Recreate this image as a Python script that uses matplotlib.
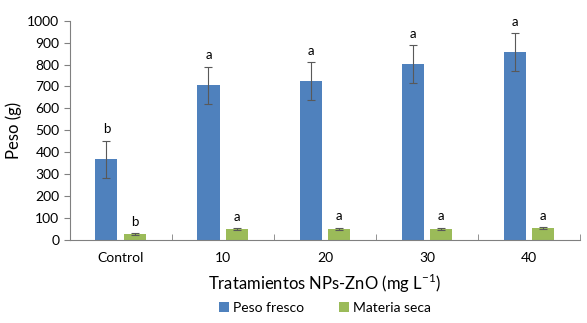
import numpy as np
import matplotlib.pyplot as plt

categories = ['Control', '10', '20', '30', '40']
fresco = [367, 705, 724, 803, 856]
fresco_err = [85, 86, 86, 86, 86]
seca = [26, 49, 50, 51, 53]
seca_err = [5, 5, 5, 5, 5]
letras_fresco = ['b', 'a', 'a', 'a', 'a']
letras_seca = ['b', 'a', 'a', 'a', 'a']

plt.rcParams['font.family'] = ['Lato', 'DejaVu Sans']

fig = plt.figure(figsize=(5.87, 3.23), dpi=100)
ax = fig.add_axes([0.119, 0.257, 0.869, 0.679])

x = np.arange(len(categories))
w = 0.216
off = 0.141
ekw = dict(ecolor='#595959', elinewidth=0.8, capsize=3, capthick=0.8)
ax.bar(x - off, fresco, w, yerr=fresco_err, color='#4F81BD', label='Peso fresco', error_kw=ekw)
ax.bar(x + off, seca, w, yerr=seca_err, color='#9BBB59', label='Materia seca', error_kw=ekw)

for i in range(len(categories)):
    ax.text(x[i] - off, fresco[i] + fresco_err[i] + 25, letras_fresco[i], ha='center', va='bottom', fontsize=9.5)
    ax.text(x[i] + off, seca[i] + seca_err[i] + 25, letras_seca[i], ha='center', va='bottom', fontsize=9.5)

ax.set_xlim(-0.5, len(categories) - 0.5)
ax.set_ylim(0, 1000)
ax.set_yticks(np.arange(0, 1001, 100))
ax.set_xticks(x)
ax.set_xticklabels(categories, fontsize=10)
ax.set_xticks(np.arange(0.5, len(categories), 1), minor=True)
ax.tick_params(axis='x', which='major', length=0, pad=9)
ax.tick_params(axis='x', which='minor', length=4, color='#808080', direction='in')
ax.tick_params(axis='y', length=4, color='#808080', labelsize=10)
for s in ['top', 'right']:
    ax.spines[s].set_visible(False)
for s in ['left', 'bottom']:
    ax.spines[s].set_color('#808080')

ax.set_ylabel('Peso (g)', fontsize=12)
ax.set_xlabel(r'Tratamientos NPs-ZnO (mg L$^{\mathregular{-1}}$)', fontsize=12, labelpad=5)
ax.legend(loc='center', bbox_to_anchor=(0.5, -0.31), ncol=2, frameon=False,
          prop={'family': ['Lato', 'DejaVu Sans'], 'size': 10},
          handlelength=0.7, handleheight=0.7, handletextpad=0.3, columnspacing=2.5)

fig.savefig('out.png', dpi=100)
